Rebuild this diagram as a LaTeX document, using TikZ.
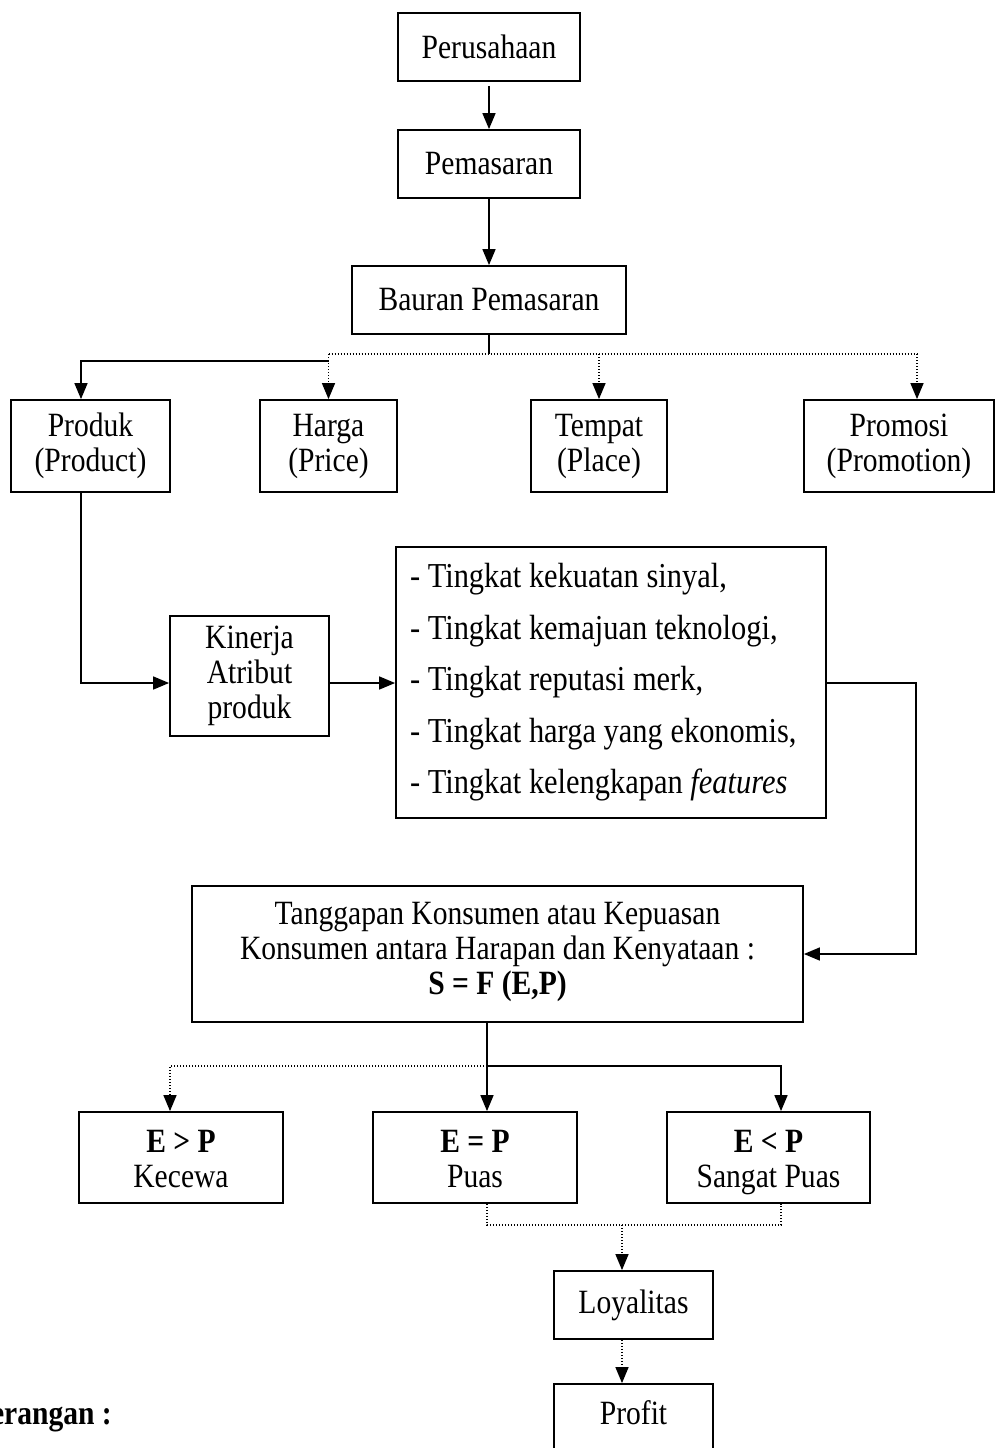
\documentclass[tikz,border=0pt]{standalone}
\usepackage{fontspec}
\setmainfont{Liberation Serif}[FakeStretch=0.87]
\usetikzlibrary{arrows.meta}
\newcommand\myfs{\fontsize{34}{35}\selectfont}
\newcommand\myfsl{\fontsize{35}{51.5}\selectfont}
\begin{document}
\begin{tikzpicture}[x=1pt,y=-1pt,
  box/.style={draw,line width=1.8pt,inner sep=0pt,align=center,font=\myfs},
  conn/.style={line width=1.6pt},
  arr/.style={conn,-{Triangle[length=16pt,width=13pt]}},
  dotline/.style={line width=1.4pt,dash pattern=on 1.4pt off 1.6pt},
  dotarrow/.style={dotline,-{Triangle[length=16pt,width=13pt]}}]
\clip (0,0) rectangle (996,1448);
\fill[white] (0,0) rectangle (996,1448);
% top chain
\node[box,minimum width=182pt,minimum height=68pt] (per) at (489,47) {Perusahaan};
\node[box,minimum width=182pt,minimum height=68pt] (pem) at (489,164) {Pemasaran};
\node[box,minimum width=274pt,minimum height=68pt] (bau) at (489,300) {Bauran Pemasaran};
\draw[arr,shorten <=4pt] (per.south) -- (pem.north);
\draw[arr] (pem.south) -- (bau.north);
% 4P row
\node[box,minimum width=159pt,minimum height=92pt] (prod) at (90.5,446) {Produk\\(Product)};
\node[box,minimum width=137pt,minimum height=92pt] (har) at (328.5,446) {Harga\\(Price)};
\node[box,minimum width=136pt,minimum height=92pt] (tem) at (599,446) {Tempat\\(Place)};
\node[box,minimum width=190pt,minimum height=92pt] (pro) at (899,446) {Promosi\\(Promotion)};
\coordinate (j0) at (489,354);
\coordinate (jh) at (328.5,354);
\coordinate (jt) at (599,354);
\coordinate (jp) at (917,354);
\coordinate (js) at (328.5,361);
\coordinate (jk) at (81,361);
\draw[conn] (bau.south) -- (j0);
\draw[dotline] (jh) -- (jp);
\draw[dotarrow] (jh) -- (har.north);
\draw[dotarrow] (jt) -- (tem.north);
\draw[dotarrow] (jp) -- (jp |- pro.north);
\draw[arr] (js) -- (jk) -- (jk |- prod.north);
% Kinerja and list
\node[box,minimum width=159pt,minimum height=120pt] (kin) at (249.5,676) {Kinerja\\Atribut\\produk};
\node[box,minimum width=430pt,minimum height=271pt,text width=402pt,align=flush left,font=\myfsl] (list) at (611,682.5)
  {- Tingkat kekuatan sinyal,\\- Tingkat kemajuan teknologi,\\- Tingkat reputasi merk,\\- Tingkat harga yang ekonomis,\\- Tingkat kelengkapan \textit{features}};
\coordinate (pk) at (81,683);
\draw[arr] (pk |- prod.south) -- (pk) -- (pk -| kin.west);
\draw[arr] (pk -| kin.east) -- (pk -| list.west);
% Tanggapan
\node[box,minimum width=611pt,minimum height=136pt] (tang) at (497.5,954)
  {Tanggapan Konsumen atau Kepuasan\\Konsumen antara Harapan dan Kenyataan :\\\textbf{S = F (E,P)}\strut};
\coordinate (lt) at (916,683);
\coordinate (lt2) at (916,954);
\draw[arr] (lt -| list.east) -- (lt) -- (lt2) -- (lt2 -| tang.east);
% outcomes
\node[box,minimum width=204pt,minimum height=91pt] (kec) at (181,1157.5) {\rule{0pt}{36pt}\textbf{E > P}\\Kecewa\strut};
\node[box,minimum width=204pt,minimum height=91pt] (puas) at (475,1157.5) {\rule{0pt}{36pt}\textbf{E = P}\\Puas\strut};
\node[box,minimum width=203pt,minimum height=91pt] (sang) at (768.5,1157.5) {\rule{0pt}{36pt}\textbf{E < P}\\Sangat Puas\strut};
\coordinate (j1) at (487,1066);
\coordinate (j1r) at (781,1066);
\coordinate (j1l) at (170,1066);
\draw[conn] (tang.south -| j1) -- (j1);
\draw[arr] (j1) -- (j1 |- puas.north);
\draw[arr] (j1) -- (j1r) -- (j1r |- sang.north);
\draw[dotarrow] (j1) -- (j1l) -- (j1l |- kec.north);
% loyalty and profit
\node[box,minimum width=159pt,minimum height=68pt] (loy) at (633.5,1305) {Loyalitas};
\node[box,minimum width=159pt,minimum height=110pt] (prof) at (633.5,1439) {};
\node[font=\myfs,anchor=base] (proft) at (633.5,1424) {Profit};
\coordinate (b1) at (487,1225);
\coordinate (b2) at (781,1225);
\coordinate (b3) at (622,1225);
\draw[dotline] (b1 |- puas.south) -- (b1) -- (b2) -- (b2 |- sang.south);
\draw[dotarrow] (b3) -- (b3 |- loy.north);
\draw[dotarrow] (b3 |- loy.south) -- (b3 |- prof.north);
% legend
\node[font=\myfs\bfseries,anchor=base east,inner sep=0pt] (ket) at (112,1424) {Keterangan :};
\end{tikzpicture}
\end{document}
